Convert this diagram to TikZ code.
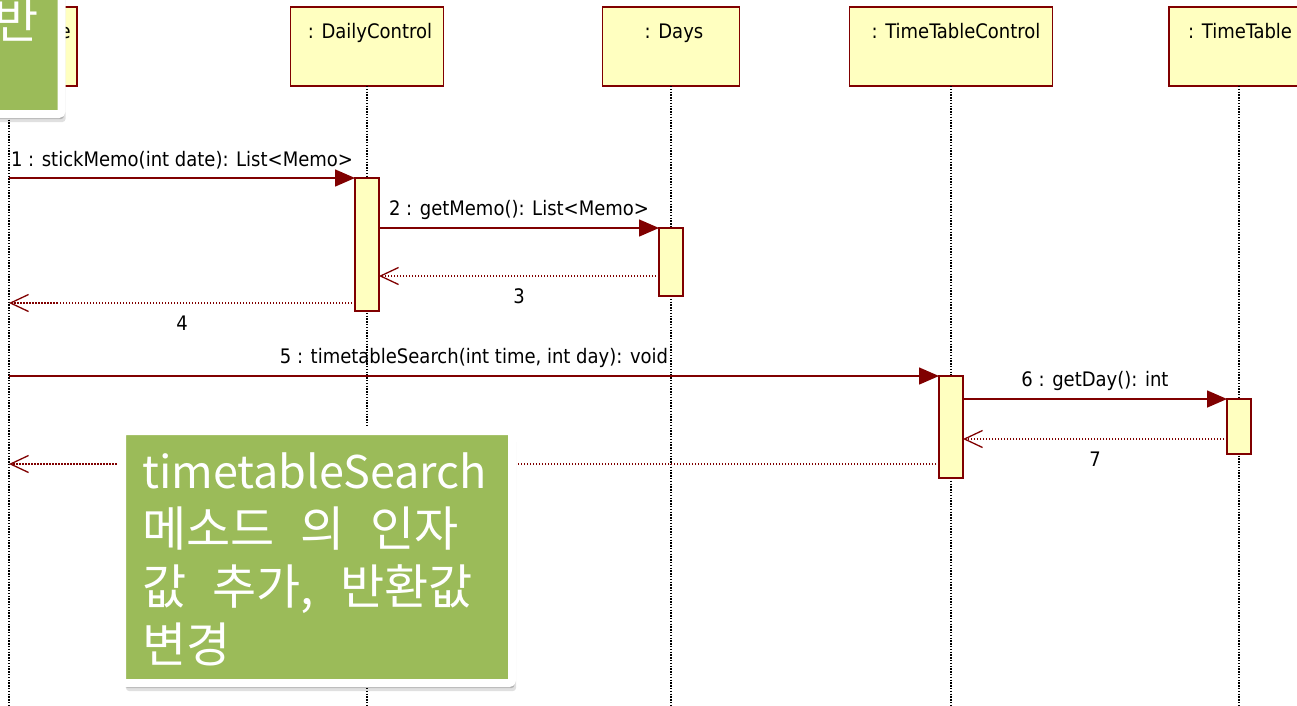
\documentclass[tikz,border=0pt]{standalone}
\usepackage{fontspec}
\setmainfont{DejaVu Sans Condensed}
\newfontfamily\kofont{Noto Sans CJK KR}
\usetikzlibrary{arrows.meta,shadows}
\definecolor{umlred}{HTML}{800000}
\definecolor{umlfill}{HTML}{FFFFC0}
\definecolor{notegreen}{HTML}{9BBB59}
\begin{document}
\begin{tikzpicture}[x=1pt,y=-1pt,
  obj/.style={draw=umlred,fill=umlfill,line width=1.5pt,minimum height=79pt,inner sep=0pt,outer sep=0pt},
  act/.style={draw=umlred,fill=umlfill,line width=1.5pt,minimum width=24pt,inner sep=0pt,outer sep=0pt,anchor=north},
  life/.style={line width=1.4pt,dash pattern=on 1.4pt off 1.4pt},
  call/.style={umlred,line width=1.5pt,-{Triangle[length=20pt,width=17pt]}},
  ret/.style={umlred,line width=1.5pt,dash pattern=on 1.5pt off 1.5pt,-{Straight Barb[length=18pt,width=17pt,line width=1.3pt]}},
  msg/.style={text=black,font=\fontsize{20}{24}\selectfont,inner sep=0pt},
  notebox/.style={draw=white,fill=notegreen,line width=8pt,rounded corners=3pt,inner sep=0pt,outer sep=0pt,
    drop shadow={shadow xshift=4pt,shadow yshift=-8pt,opacity=.12,fill=black},
    drop shadow={shadow xshift=2.5pt,shadow yshift=-5pt,opacity=.2,fill=black},
    drop shadow={shadow xshift=1pt,shadow yshift=-2.5pt,opacity=.25,fill=black}},
  notetext/.style={white,font=\kofont\fontsize{48}{58}\selectfont,inner sep=0pt,align=left}]
\useasboundingbox (0,0) rectangle (1297,705);

\node[obj,minimum width=136pt] (ui) at (9,46.5) {};
\node[obj,minimum width=153pt] (daily) at (367,46.5) {};
\node[obj,minimum width=137pt] (days) at (671,46.5) {};
\node[obj,minimum width=203pt] (ttc) at (951,46.5) {};
\node[obj,minimum width=140pt] (tt) at (1239,46.5) {};
\node[msg,anchor=base east] (uitext) at (71,38) {e};
\node[msg,anchor=base] (dailytext) at (370,38) {: DailyControl};
\node[msg,anchor=base] (daystext) at (674,38) {: Days};
\node[msg,anchor=base] (ttctext) at (956,38) {: TimeTableControl};
\node[msg,anchor=base west] (tttext) at (1188,38) {: TimeTable};

\foreach \o in {ui,daily,days,ttc,tt}
  \draw[life] (\o.south) -- (\o.south |- 0,705);

\node[act,minimum height=133pt] (b1) at (daily.south |- 0,178) {};
\node[act,minimum height=68pt] (b2) at (days.south |- 0,228) {};
\node[act,minimum height=102pt] (b3) at (ttc.south |- 0,376) {};
\node[act,minimum height=55pt] (b4) at (tt.south |- 0,399) {};

\draw[call] (ui.south |- b1.north) -- (b1.north west) node[msg,midway,above=8pt] (m1) {1 : stickMemo(int date): List<Memo>};
\draw[call] (b1.east |- b2.north) -- (b2.north west) node[msg,midway,above=8pt] (m2) {2 : getMemo(): List<Memo>};
\coordinate (r3) at ([yshift=20pt]b2.south west);
\draw[ret] (r3) -- (r3 -| b1.east) node[msg,midway,below=12pt] (m3) {3};
\coordinate (r4) at ([yshift=8pt]b1.south west);
\draw[ret] (r4) -- (r4 -| ui.south) node[msg,midway,below=12pt] (m4) {4};
\draw[call] (ui.south |- b3.north) -- (b3.north west) node[msg,midway,above=8pt] (m5) {5 : timetableSearch(int time, int day): void};
\draw[call] (b3.east |- b4.north) -- (b4.north west) node[msg,midway,above=8pt] (m6) {6 : getDay(): int};
\coordinate (r7) at ([yshift=15pt]b4.south west);
\draw[ret] (r7) -- (r7 -| b3.east) node[msg,midway,below=12pt] (m7) {7};
\coordinate (r8) at ([yshift=14pt]b3.south west);
\draw[ret] (r8) -- (r8 -| ui.south);

\node[notebox,anchor=south east,minimum width=200pt,minimum height=250pt] (n1) at (61.5,114) {};
\node[notetext,anchor=base west] (t1) at (-6,38) {반};
\node[notebox,anchor=north west,minimum width=390pt,minimum height=252pt] (n2) at (122,431) {};
\node[notetext,anchor=north west] (t2) at (142,452) {{\fontsize{45}{58}\selectfont timetableSearch}\\
  \spaceskip=26pt 메소드 의 인자\\\spaceskip=26pt 값 추가, 반환값\\변경};
\end{tikzpicture}
\end{document}
